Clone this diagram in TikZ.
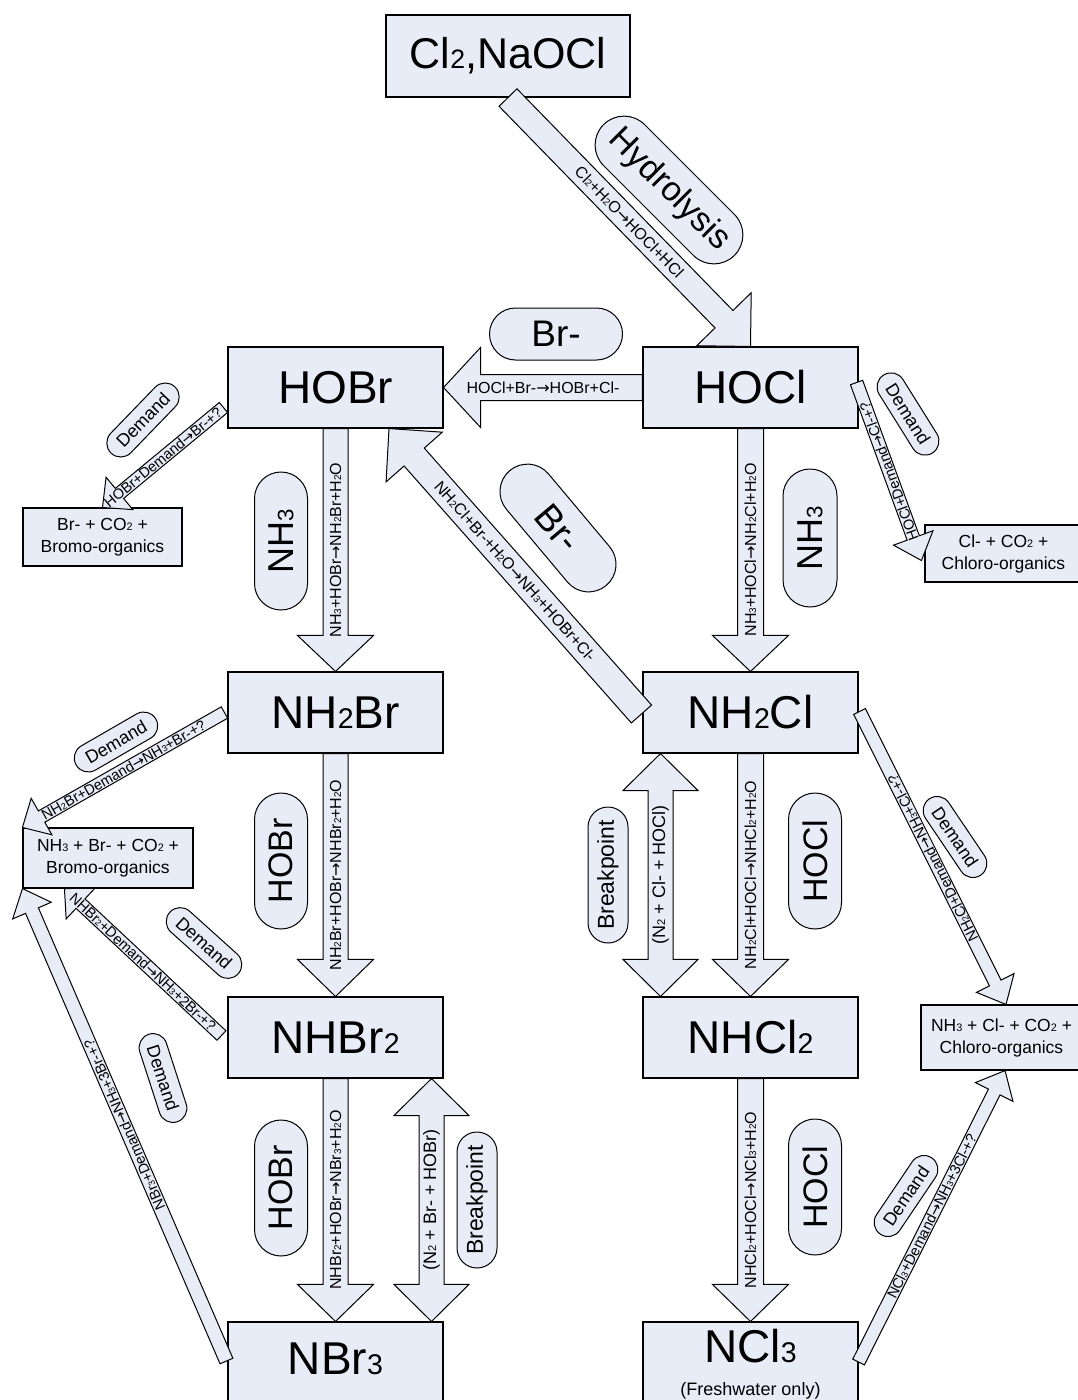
\documentclass[tikz,border=0pt]{standalone}
\usepackage{fontspec}
\setmainfont{Liberation Sans}
\newfontfamily\arwfont{DejaVu Sans}
\usepackage{graphicx}
\usetikzlibrary{calc,shapes.misc}
\definecolor{bfill}{RGB}{231,236,247}
\newcommand\fsz[1]{\fontsize{#1}{#1}\selectfont}
\newcommand\smd[1]{\scalebox{0.62}{#1}}
\newcommand\rarw{{\arwfont →}}
% block arrow: [opts]{tail}{tip}{shaft half width}{head half width}{head length}
\newcommand\barrow[6][]{%
  \coordinate (bH) at ($(#3)!#6!(#2)$);
  \draw[barr,#1] ($(#2)!#4!90:(#3)$) -- ($(bH)!#4!90:(#3)$) -- ($(bH)!#5!90:(#3)$) -- (#3)
     -- ($(bH)!#5!-90:(#3)$) -- ($(bH)!#4!-90:(#3)$) -- ($(#2)!#4!-90:(#3)$) -- cycle;}
% double block arrow
\newcommand\dbarrow[6][]{%
  \coordinate (bH) at ($(#3)!#6!(#2)$);
  \coordinate (bT) at ($(#2)!#6!(#3)$);
  \draw[barr,#1] (#2) -- ($(bT)!#5!90:(#3)$) -- ($(bT)!#4!90:(#3)$) -- ($(bH)!#4!90:(#3)$)
     -- ($(bH)!#5!90:(#3)$) -- (#3) -- ($(bH)!#5!-90:(#3)$) -- ($(bH)!#4!-90:(#3)$)
     -- ($(bT)!#4!-90:(#3)$) -- ($(bT)!#5!-90:(#3)$) -- cycle;}
\begin{document}
\begin{tikzpicture}[x=1pt,y=-1pt,
  box/.style={draw=black,fill=bfill,line width=1.1pt,inner sep=2pt},
  sbox/.style={box,align=center,font=\fontsize{17.5}{22}\selectfont},
  pill/.style={rounded rectangle,draw=black,fill=bfill,line width=1pt,inner sep=0pt},
  dpill/.style={pill,minimum width=92pt,minimum height=28pt,font=\fsz{18}},
  barr/.style={draw=black,fill=bfill,line width=1pt,line join=miter},
  atext/.style={font=\fsz{16},inner sep=1pt},
  dtext/.style={font=\fsz{14.5},inner sep=1pt}]

\clip (0,0) rectangle (1078,1400);
\fill[white] (0,0) rectangle (1078,1400);

% ---------- main boxes ----------
\node[box,minimum width=244pt,minimum height=82pt,font=\fsz{43}] (cl2) at (508,56) {Cl\smd{2},NaOCl};
\node[box,minimum width=215pt,minimum height=81pt,font=\fsz{46}] (hobr) at (335.5,387.5) {HOBr};
\node[box,minimum width=215pt,minimum height=81pt,font=\fsz{46}] (hocl) at (750.5,387.5) {HOCl};
\node[box,minimum width=215pt,minimum height=81pt,font=\fsz{46}] (nh2br) at (335.5,712.5) {NH\smd{2}Br};
\node[box,minimum width=215pt,minimum height=81pt,font=\fsz{46}] (nh2cl) at (750.5,712.5) {NH\smd{2}Cl};
\node[box,minimum width=215pt,minimum height=81pt,font=\fsz{46}] (nhbr2) at (335.5,1037.5) {NHBr\smd{2}};
\node[box,minimum width=215pt,minimum height=81pt,font=\fsz{46}] (nhcl2) at (750.5,1037.5) {NHCl\smd{2}};
\node[box,minimum width=215pt,minimum height=100pt,font=\fsz{46},text depth=27pt] (nbr3) at (335.5,1372) {NBr\smd{3}};
\node[box,minimum width=215pt,minimum height=100pt,font=\fsz{46},align=center,text depth=18.5pt] (ncl3) at (750.5,1372)
  {NCl\smd{3}\\[-13pt]{\fsz{18}(Freshwater only)}};

% ---------- product boxes ----------
\node[sbox,minimum width=159pt,minimum height=58pt] (brbox) at (102.5,537) {Br- + CO\smd{2} +\\Bromo-organics};
\node[sbox,minimum width=157pt,minimum height=57pt] (clbox) at (1003.5,553.5) {Cl- + CO\smd{2} +\\Chloro-organics};
\node[sbox,minimum width=170pt,minimum height=60pt] (nh3brbox) at (108,858) {NH\smd{3} + Br- + CO\smd{2} +\\Bromo-organics};
\node[sbox,minimum width=161pt,minimum height=65pt] (nh3clbox) at (1001.5,1037.5) {NH\smd{3} + Cl- + CO\smd{2} +\\Chloro-organics};

% ---------- pills ----------
\node[pill,minimum width=185pt,minimum height=58pt,rotate=-45,font=\fsz{34}] (phyd) at (669,190) {Hydrolysis};
\node[pill,minimum width=133pt,minimum height=52pt,font=\fsz{37}] (pbrh) at (556,334) {Br-};
\node[pill,minimum width=150pt,minimum height=55pt,rotate=-50,font=\fsz{37}] (pbrd) at (558,528) {Br-};
\node[pill,minimum width=138pt,minimum height=53pt,rotate=90,font=\fsz{36}] (pnh3l) at (281,541) {NH\smd{3}};
\node[pill,minimum width=138pt,minimum height=54pt,rotate=90,font=\fsz{36}] (pnh3r) at (810,538) {NH\smd{3}};
\node[pill,minimum width=136pt,minimum height=53pt,rotate=90,font=\fsz{34}] (phobr1) at (281,861) {HOBr};
\node[pill,minimum width=136pt,minimum height=53pt,rotate=90,font=\fsz{34}] (phocl1) at (815,861) {HOCl};
\node[pill,minimum width=136pt,minimum height=40pt,rotate=90,font=\fsz{23}] (pbp1) at (608,875) {Breakpoint};
\node[pill,minimum width=136pt,minimum height=53pt,rotate=90,font=\fsz{34}] (phobr2) at (281,1188) {HOBr};
\node[pill,minimum width=136pt,minimum height=53pt,rotate=90,font=\fsz{34}] (phocl2) at (815,1187) {HOCl};
\node[pill,minimum width=136pt,minimum height=40pt,rotate=90,font=\fsz{23}] (pbp2) at (477,1200) {Breakpoint};

\node[dpill,rotate=46] (dp1) at (143,420) {Demand};
\node[dpill,rotate=-58] (dp2) at (908,414) {Demand};
\node[dpill,rotate=30] (dp3) at (116,742) {Demand};
\node[dpill,rotate=-42] (dp4) at (204,943) {Demand};
\node[dpill,rotate=-72] (dp5) at (163,1078) {Demand};
\node[dpill,rotate=-56] (dp6) at (955,837) {Demand};
\node[dpill,rotate=56] (dp7) at (906,1196) {Demand};

% ---------- connector end points ----------
\coordinate (a1t) at (cl2.south);   \coordinate (a1h) at (hocl.north);
\coordinate (a2t) at (hocl.west);   \coordinate (a2h) at (hobr.east);
\coordinate (a3t) at (hobr.south);  \coordinate (a3h) at (nh2br.north);
\coordinate (a4t) at (hocl.south);  \coordinate (a4h) at (nh2cl.north);
\coordinate (a5t) at ($(nh2cl.west)+(-1,1.5)$); \coordinate (a5h) at ($(hobr.south)+(53.5,0)$);
\coordinate (a6t) at (nh2br.south); \coordinate (a6h) at (nhbr2.north);
\coordinate (a7t) at (nh2cl.south); \coordinate (a7h) at (nhcl2.north);
\coordinate (a8t) at (nhbr2.south); \coordinate (a8h) at (nbr3.north);
\coordinate (a9t) at (nhcl2.south); \coordinate (a9h) at (ncl3.north);
\coordinate (d1a) at ($(nh2cl.south)+(-90,0)$); \coordinate (d1b) at ($(nhcl2.north)+(-90,0)$);
\coordinate (d2a) at ($(nhbr2.south)+(96,0)$);  \coordinate (d2b) at ($(nbr3.north)+(96,0)$);
\coordinate (e1t) at ($(hobr.west)+(-4,20)$);   \coordinate (e1h) at (brbox.north);
\coordinate (e2t) at ($(hocl.east)+(-2,-5)$);   \coordinate (e2h) at ($(clbox.west)+(-3,7)$);
\coordinate (e3t) at ($(nh2br.west)+(-3,0)$);   \coordinate (e3h) at (nh3brbox.north west);
\coordinate (e4t) at ($(nhbr2.west)+(-6,-2)$);  \coordinate (e4h) at ($(nh3brbox.south west)+(42,0)$);
\coordinate (e5t) at ($(nbr3.west)+(-1,-11)$);  \coordinate (e5h) at (nh3brbox.south west);
\coordinate (e6t) at ($(nh2cl.east)+(1,-1)$);   \coordinate (e6h) at ($(nh3clbox.north)+(4.5,0)$);
\coordinate (e7t) at ($(ncl3.east)+(0,-10)$);   \coordinate (e7h) at ($(nh3clbox.south)+(3.5,0)$);

% ---------- block arrows ----------
\barrow{a1t}{a1h}{12.5pt}{38pt}{38pt}
\barrow{a2t}{a2h}{13pt}{40pt}{37pt}
\barrow{a3t}{a3h}{12.5pt}{38pt}{36pt}
\barrow{a4t}{a4h}{13pt}{38pt}{36pt}
\barrow{a5t}{a5h}{13.5pt}{37.5pt}{38pt}
\barrow{a6t}{a6h}{12.5pt}{38pt}{37pt}
\barrow{a7t}{a7h}{13pt}{38pt}{37pt}
\barrow{a8t}{a8h}{12.5pt}{38pt}{37pt}
\barrow{a9t}{a9h}{13pt}{38pt}{37pt}
\dbarrow{d1a}{d1b}{12.5pt}{37.5pt}{37pt}
\dbarrow{d2a}{d2b}{12.5pt}{37.5pt}{37pt}
\barrow{e1t}{e1h}{6.5pt}{21pt}{22pt}
\barrow{e2t}{e2h}{6.5pt}{21pt}{24pt}
\barrow{e3t}{e3h}{6.5pt}{21pt}{22pt}
\barrow{e4t}{e4h}{6.5pt}{21pt}{22pt}
\barrow{e5t}{e5h}{7pt}{21pt}{24pt}
\barrow{e6t}{e6h}{6.5pt}{21pt}{24pt}
\barrow{e7t}{e7h}{6.5pt}{21pt}{24pt}

% ---------- arrow texts ----------
\path (a1t) -- (a1h) node[midway,sloped,atext] {Cl\smd{2}+H\smd{2}O\rarw HOCl+HCl};
\path (a2h) -- (a2t) node[midway,sloped,atext] {HOCl+Br-\rarw HOBr+Cl-};
\path (a3h) -- (a3t) node[midway,sloped,atext] {NH\smd{3}+HOBr\rarw NH\smd{2}Br+H\smd{2}O};
\path (a4h) -- (a4t) node[midway,sloped,atext] {NH\smd{3}+HOCl\rarw NH\smd{2}Cl+H\smd{2}O};
\path (a5t) -- (a5h) node[midway,sloped,atext] {NH\smd{2}Cl+Br-+H\smd{2}O\rarw NH\smd{3}+HOBr+Cl-};
\path (a6h) -- (a6t) node[midway,sloped,atext] {NH\smd{2}Br+HOBr\rarw NHBr\smd{2}+H\smd{2}O};
\path (a7h) -- (a7t) node[midway,sloped,atext] {NH\smd{2}Cl+HOCl\rarw NHCl\smd{2}+H\smd{2}O};
\path (a8h) -- (a8t) node[midway,sloped,atext] {NHBr\smd{2}+HOBr\rarw NBr\smd{3}+H\smd{2}O};
\path (a9h) -- (a9t) node[midway,sloped,atext] {NHCl\smd{2}+HOCl\rarw NCl\smd{3}+H\smd{2}O};
\path (d1b) -- (d1a) node[midway,sloped,atext,font=\fsz{18}] {(N\smd{2} + Cl- + HOCl)};
\path (d2b) -- (d2a) node[midway,sloped,atext,font=\fsz{18}] {(N\smd{2} + Br- + HOBr)};
\path (e1t) -- (e1h) node[midway,sloped,dtext] {HOBr+Demand\rarw Br-+?};
\path (e2h) -- (e2t) node[midway,sloped,allow upside down,dtext] {HOCl+Demand\rarw Cl-+?};
\path (e3t) -- (e3h) node[midway,sloped,dtext] {NH\smd{2}Br+Demand\rarw NH\smd{3}+Br-+?};
\path (e4t) -- (e4h) node[midway,sloped,dtext] {NHBr\smd{2}+Demand\rarw NH\smd{3}+2Br-+?};
\path (e5t) -- (e5h) node[midway,sloped,allow upside down,dtext] {NBr\smd{3}+Demand\rarw NH\smd{3}+3Br-+?};
\path (e6h) -- (e6t) node[midway,sloped,allow upside down,dtext] {NH\smd{2}Cl+Demand\rarw NH\smd{3}+Cl-+?};
\path (e7t) -- (e7h) node[midway,sloped,dtext] {NCl\smd{3}+Demand\rarw NH\smd{3}+3Cl-+?};
\end{tikzpicture}
\end{document}
